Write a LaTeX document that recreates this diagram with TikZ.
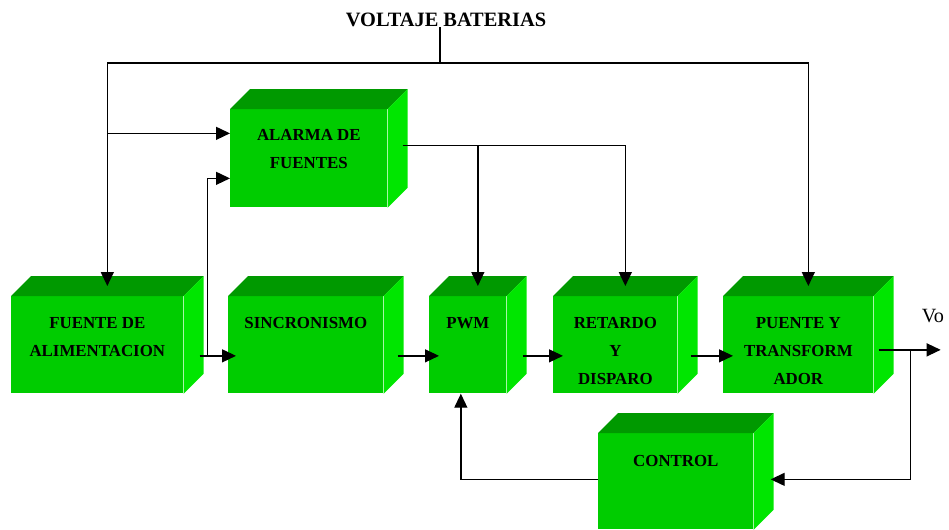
\documentclass[tikz,border=0pt]{standalone}
\usepackage{fontspec}
\setmainfont{Liberation Serif}
\usepackage{tikz}
\usetikzlibrary{calc, arrows.meta}
\definecolor{verdeFrente}{HTML}{00CC00}
\definecolor{verdeTapa}{HTML}{009900}
\definecolor{verdeLado}{HTML}{00E600}

\begin{document}
\begin{tikzpicture}[x=0.02cm, y=-0.02cm,
    bloque/.style={fill=verdeFrente, inner sep=0pt, anchor=north west},
    rotulo/.style={font=\fontsize{9.6}{15.9}\selectfont\bfseries, align=center, anchor=north, inner sep=0pt},
    flecha/.style={-{Triangle[length=0.28cm, width=0.26cm]}, line width=0.75pt},
    linea/.style={line width=0.75pt}]
    \useasboundingbox (0,0) rectangle (949,529);

    % bloques (cara frontal)
    \node[bloque, minimum width=3.44cm, minimum height=1.94cm] (fuente)  at (11,296)  {};
    \node[bloque, minimum width=3.14cm, minimum height=1.96cm] (alarma)  at (230,109) {};
    \node[bloque, minimum width=3.10cm, minimum height=1.94cm] (sincro)  at (228,296) {};
    \node[bloque, minimum width=1.54cm, minimum height=1.94cm] (pwm)     at (429,296) {};
    \node[bloque, minimum width=2.48cm, minimum height=1.94cm] (retardo) at (553,296) {};
    \node[bloque, minimum width=3.00cm, minimum height=1.94cm] (puente)  at (723,296) {};
    \node[bloque, minimum width=3.10cm, minimum height=1.92cm] (control) at (598,433) {};

    % tapa y lado de cada bloque
    \foreach \b in {fuente,alarma,sincro,pwm,retardo,puente,control} {
        \fill[verdeTapa] (\b.north west) -- ++(20,-20) -- ($(\b.north east)+(20,-20)$) -- (\b.north east) -- cycle;
        \fill[verdeLado] (\b.north east) -- ++(20,-20) -- ($(\b.south east)+(20,-20)$) -- (\b.south east) -- cycle;
        \coordinate (\b-arriba) at ($(\b.north)+(10,-10)$);
    }

    % textos
    \node[rotulo] (fuente-txt)  at ($(fuente.north)+(0,21)$)  {FUENTE DE\\ALIMENTACION};
    \node[rotulo] (alarma-txt)  at ($(alarma.north)+(0,20)$)  {ALARMA DE\\FUENTES};
    \node[rotulo] (sincro-txt)  at ($(sincro.north)+(0,21)$)  {SINCRONISMO};
    \node[rotulo] (pwm-txt)     at ($(pwm.north)+(0,21)$)     {PWM};
    \node[rotulo] (retardo-txt) at ($(retardo.north)+(0,21)$) {RETARDO\\Y\\DISPARO};
    \node[rotulo] (puente-txt)  at ($(puente.north)+(0,21)$)  {PUENTE Y\\TRANSFORM\\ADOR};
    \node[rotulo] (control-txt) at ($(control.north)+(0,22)$) {CONTROL};

    \node[font=\fontsize{11.6}{14}\selectfont\bfseries, inner sep=0pt] (volt) at (446,20) {VOLTAJE BATERIAS};
    \node[font=\fontsize{11.5}{13}\selectfont, inner sep=0pt] (vo) at (933,316) {Vo};

    % voltaje de baterias
    \coordinate (bus) at (440,63);
    \draw[linea] (volt.south -| bus) -- (bus);
    \draw[flecha] (bus) -| (fuente-arriba);
    \draw[flecha] (bus) -| (puente-arriba);
    \coordinate (a1) at ($(alarma.west)+(0,-25)$);
    \draw[flecha] (a1 -| fuente-arriba) -- (a1);

    % fuente
    \coordinate (n1) at ($(fuente.east)+(24,11)$);
    \draw[flecha] ($(fuente.east)+(16,11)$) -- ($(sincro.west)+(8,11)$);
    \draw[flecha] (n1) |- ($(alarma.west)+(0,20)$);

    % alarma
    \coordinate (s1) at ($(alarma.east)+(15,-13)$);
    \draw[flecha] (s1) -| (retardo-arriba);
    \draw[flecha] (pwm-arriba |- s1) -- (pwm-arriba);

    % cadena principal
    \draw[flecha] ($(sincro.east)+(14,11)$) -- ($(pwm.west)+(10,11)$);
    \draw[flecha] ($(pwm.east)+(16,11)$) -- ($(retardo.west)+(10,11)$);
    \draw[flecha] ($(retardo.east)+(13,11)$) -- ($(puente.west)+(10,11)$);

    % salida y realimentacion
    \coordinate (salida) at ($(puente.east)+(67,5)$);
    \coordinate (fb) at ($(puente.east)+(37,5)$);
    \draw[flecha] ($(puente.east)+(5,5)$) -- (salida);
    \draw[flecha] (fb) |- ($(control.east)+(17,-2)$);
    \draw[flecha] ($(control.west)+(0,-2)$) -| ($(pwm.south)+(-7,0)$);
\end{tikzpicture}
\end{document}
